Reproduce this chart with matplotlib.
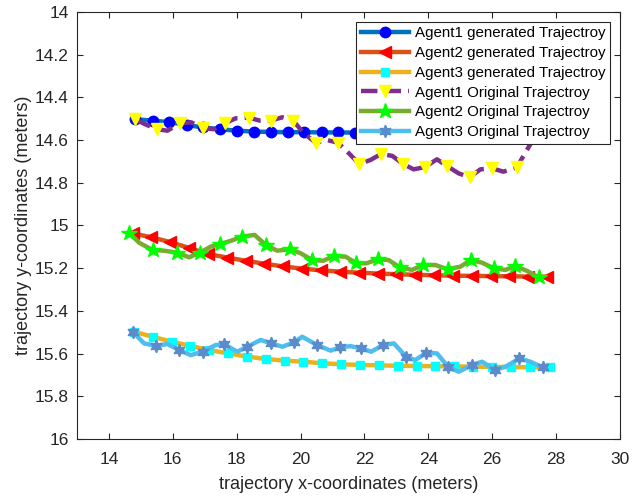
import matplotlib
matplotlib.use("Agg")
import matplotlib.pyplot as plt

plt.rcParams['font.family'] = ['Liberation Sans', 'DejaVu Sans']

# ---- data ----
a1_gen_x = [14.81, 15.37, 15.88, 16.44, 16.94, 17.47, 18.00, 18.53, 19.06, 19.60, 20.10, 20.66,
            21.16, 21.70, 22.23, 22.76, 23.29, 23.82, 24.35, 24.88, 25.41, 25.94, 26.47, 27.00, 27.53]
a1_gen_y = [14.502, 14.509, 14.516, 14.529, 14.541, 14.549, 14.556, 14.560, 14.562, 14.563, 14.563,
            14.564, 14.564, 14.565, 14.565, 14.565, 14.566, 14.566, 14.566, 14.566, 14.566, 14.566,
            14.566, 14.566, 14.566]

a2_gen_x = [14.74, 15.33, 15.92, 16.51, 17.10, 17.69, 18.28, 18.87, 19.46, 20.05, 20.64, 21.23,
            21.82, 22.41, 23.00, 23.59, 24.18, 24.77, 25.36, 25.95, 26.54, 27.13, 27.72]
a2_gen_y = [15.037, 15.055, 15.078, 15.105, 15.133, 15.150, 15.165, 15.179, 15.192, 15.202, 15.210,
            15.216, 15.221, 15.225, 15.228, 15.231, 15.233, 15.235, 15.236, 15.237, 15.238, 15.239, 15.240]

a3_gen_x = [14.78, 15.37, 15.96, 16.55, 17.14, 17.73, 18.32, 18.91, 19.50, 20.09, 20.68, 21.27,
            21.86, 22.45, 23.04, 23.63, 24.22, 24.81, 25.40, 25.99, 26.58, 27.17, 27.82]
a3_gen_y = [15.497, 15.521, 15.544, 15.564, 15.583, 15.599, 15.614, 15.625, 15.633, 15.638, 15.645,
            15.650, 15.653, 15.655, 15.657, 15.658, 15.659, 15.660, 15.661, 15.662, 15.663, 15.664, 15.665]

a1_orig_x = [14.82, 15.18, 15.52, 15.83, 16.23, 16.58, 16.96, 17.29, 17.63, 17.97, 18.37, 18.73,
             19.06, 19.43, 19.77, 20.10, 20.47, 20.83, 21.17, 21.46, 21.84, 22.19, 22.52, 22.87,
             23.21, 23.54, 23.88, 24.27, 24.58, 24.95, 25.29, 25.63, 25.99, 26.35, 26.77, 27.24, 27.55]
a1_orig_y = [14.503, 14.529, 14.549, 14.556, 14.521, 14.517, 14.545, 14.549, 14.521, 14.498, 14.495,
             14.509, 14.509, 14.493, 14.509, 14.568, 14.612, 14.600, 14.612, 14.654, 14.712, 14.693,
             14.665, 14.674, 14.712, 14.737, 14.727, 14.690, 14.721, 14.756, 14.774, 14.737, 14.732,
             14.748, 14.727, 14.607, 14.500]

a2_orig_x = [14.63, 14.95, 15.37, 15.73, 16.13, 16.51, 16.85, 17.19, 17.48, 17.83, 18.18, 18.56,
             18.91, 19.27, 19.67, 20.00, 20.37, 20.71, 21.04, 21.41, 21.75, 22.06, 22.42, 22.76,
             23.10, 23.49, 23.83, 24.22, 24.60, 25.00, 25.33, 25.68, 26.04, 26.41, 26.72, 27.08, 27.45]
a2_orig_y = [15.034, 15.081, 15.115, 15.118, 15.127, 15.149, 15.127, 15.099, 15.087, 15.071, 15.052,
             15.044, 15.091, 15.118, 15.111, 15.130, 15.162, 15.165, 15.143, 15.146, 15.177, 15.177,
             15.158, 15.162, 15.196, 15.208, 15.185, 15.185, 15.205, 15.193, 15.162, 15.174, 15.200,
             15.208, 15.190, 15.212, 15.243]

a3_orig_x = [14.74, 15.10, 15.47, 15.83, 16.20, 16.56, 16.93, 17.34, 17.60, 18.02, 18.33, 18.75,
             19.08, 19.43, 19.79, 20.05, 20.52, 20.94, 21.22, 21.56, 21.90, 22.21, 22.58, 22.92,
             23.30, 23.59, 23.94, 24.27, 24.63, 24.95, 25.37, 25.68, 26.09, 26.46, 26.85, 27.19, 27.58]
a3_orig_y = [15.497, 15.552, 15.564, 15.555, 15.583, 15.607, 15.591, 15.560, 15.556, 15.591, 15.568,
             15.536, 15.552, 15.568, 15.547, 15.521, 15.560, 15.586, 15.571, 15.565, 15.575, 15.591,
             15.560, 15.552, 15.614, 15.630, 15.596, 15.599, 15.664, 15.685, 15.653, 15.638, 15.677,
             15.658, 15.622, 15.638, 15.664]

labels = ['Agent1 generated Trajectroy', 'Agent2 generated Trajectroy', 'Agent3 generated Trajectroy',
          'Agent1 Original Trajectroy', 'Agent2 Original Trajectroy', 'Agent3 Original Trajectroy']
x_ticks = [14, 16, 18, 20, 22, 24, 26, 28, 30]
y_ticks = [14, 14.2, 14.4, 14.6, 14.8, 15, 15.2, 15.4, 15.6, 15.8, 16]
y_tick_labels = ['14', '14.2', '14.4', '14.6', '14.8', '15', '15.2', '15.4', '15.6', '15.8', '16']

# ---- figure ----
fig = plt.figure(figsize=(6.33, 4.99), dpi=100)
ax = fig.add_axes([0.1216, 0.1202, 0.8579, 0.8558])

lw = 3.2
ax.plot(a1_gen_x, a1_gen_y, '-', color='#0072BD', lw=lw, marker='o', ms=7.5,
        mfc='#0000FF', mec='#0000FF', label=labels[0])
ax.plot(a2_gen_x, a2_gen_y, '-', color='#D95319', lw=lw, marker='<', ms=8.5,
        mfc='#FF0000', mec='#FF0000', label=labels[1])
ax.plot(a3_gen_x, a3_gen_y, '-', color='#EDB120', lw=lw, marker='s', ms=5.5,
        mfc='#00FFFF', mec='#00FFFF', label=labels[2])
ax.plot(a1_orig_x, a1_orig_y, '--', color='#7E2F8E', lw=lw, marker='v', ms=8.5,
        mfc='#FFFF00', mec='#FFFF00', markevery=slice(0, None, 2), label=labels[3])
ax.plot(a2_orig_x, a2_orig_y, '-', color='#77AC30', lw=lw, marker='*', ms=11.5,
        mfc='#00FF00', mec='#00FF00', markevery=slice(0, None, 2), label=labels[4])
ax.plot(a3_orig_x, a3_orig_y, '-', color='#4DBEEE', lw=lw, marker=(6, 1, 0), ms=9,
        mfc='#5B8BCB', mec='#5B8BCB', markevery=slice(0, None, 2), label=labels[5])

ax.set_xlim(13, 30)
ax.set_ylim(16, 14)
ax.set_xticks(x_ticks)
ax.set_xticklabels([str(t) for t in x_ticks])
ax.set_yticks(y_ticks)
ax.set_yticklabels(y_tick_labels)
ax.tick_params(direction='in', top=True, right=True, length=4, width=0.8,
               colors='#262626', labelsize=12.5, pad=6)
ax.tick_params(axis='x', pad=9)
for s in ax.spines.values():
    s.set_color('#262626')
    s.set_linewidth(0.8)

ax.set_xlabel('trajectory x-coordinates (meters)', fontsize=13, color='#262626', labelpad=7)
ax.set_ylabel('trajectory y-coordinates (meters)', fontsize=13, color='#262626', labelpad=2)

leg = ax.legend(loc='upper right', fontsize=10.9, handlelength=3.2, borderaxespad=0.65,
                fancybox=False, framealpha=1, edgecolor='#262626', borderpad=0.3,
                labelspacing=0.38, handletextpad=0.4)
leg.get_frame().set_linewidth(0.8)

fig.savefig('out.png', dpi=100)
